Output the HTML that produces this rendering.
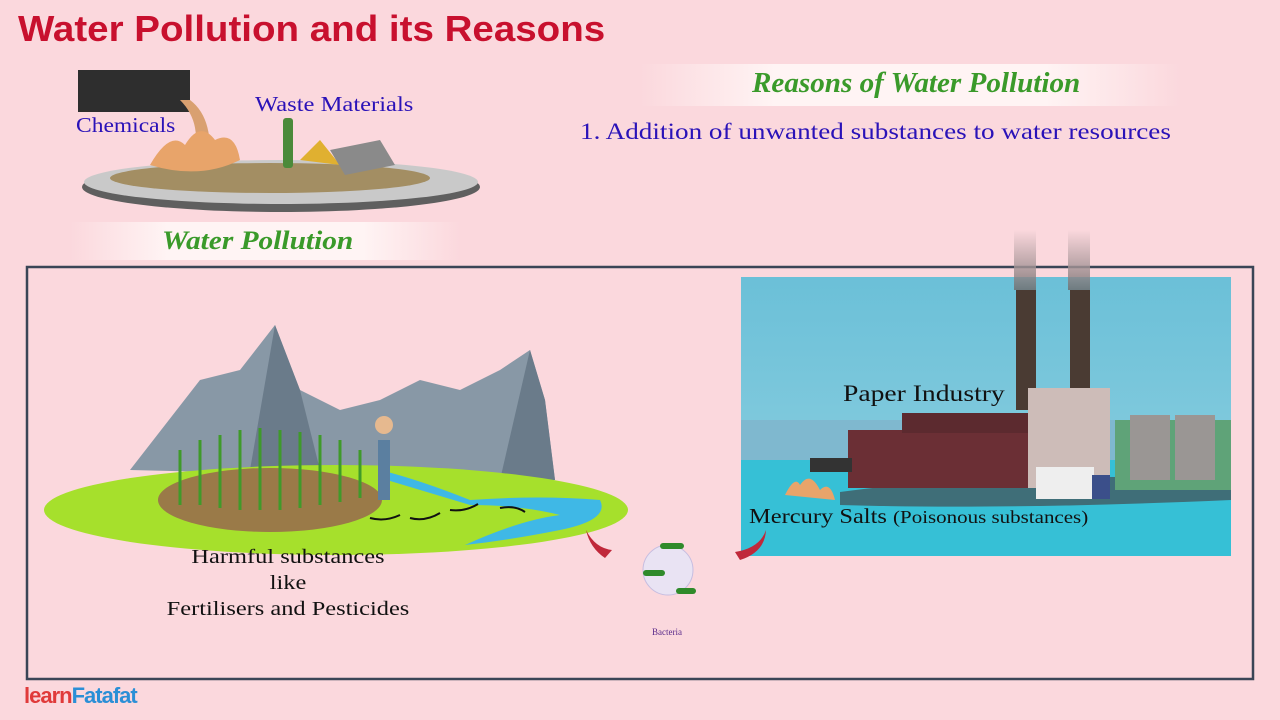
<!DOCTYPE html>
<html><head><meta charset="utf-8"><style>
body{margin:0;width:1280px;height:720px;background:#fbd8dd;overflow:hidden;position:relative;font-family:"Liberation Serif",serif}
.t{position:absolute;white-space:nowrap;transform-origin:left top}
</style></head><body>
<svg width="1280" height="720" style="position:absolute;left:0;top:0">
<defs>
<linearGradient id="band" x1="0" x2="1"><stop offset="0" stop-color="#fbd8dd"/><stop offset=".25" stop-color="#fff4f4"/><stop offset=".75" stop-color="#fff4f4"/><stop offset="1" stop-color="#fbd8dd"/></linearGradient>
<linearGradient id="sky" x1="0" y1="0" x2="0" y2="1"><stop offset="0" stop-color="#6bc0d8"/><stop offset="1" stop-color="#8fd0e0"/></linearGradient>
<linearGradient id="smoke" x1="0" y1="0" x2="0" y2="1"><stop offset="0" stop-color="#fbd8dd"/><stop offset="1" stop-color="#6f6a6a"/></linearGradient>
</defs>
<rect x="640" y="64" width="540" height="42" fill="url(#band)"/>
<rect x="70" y="222" width="390" height="38" fill="url(#band)"/>
<ellipse cx="281" cy="187" rx="199" ry="25" fill="#5f5f5f"/>
<ellipse cx="281" cy="182" rx="197" ry="22" fill="#c9c9c9"/>
<ellipse cx="270" cy="178" rx="160" ry="15" fill="#a38e63"/>
<rect x="78" y="70" width="112" height="42" fill="#2e2e2e"/>
<path d="M180 100 Q200 120 195 150 L210 150 Q210 115 190 100Z" fill="#d9a070"/>
<path d="M150 165 Q170 130 185 145 Q200 120 215 140 Q235 130 240 160 Q200 180 150 165Z" fill="#e8a46a"/>
<rect x="283" y="118" width="10" height="50" rx="3" fill="#4b8a3a"/>
<path d="M300 160 L320 140 L340 165Z" fill="#e0b030"/>
<path d="M330 150 L380 140 L395 165 L345 175Z" fill="#8a8a8a"/>
<rect x="27" y="267" width="1226" height="412" fill="none" stroke="#3a4556" stroke-width="2.5"/>
<polygon points="130,470 200,380 240,370 275,325 300,390 340,410 380,400 420,380 460,390 500,370 530,350 545,400 555,480" fill="#8898a6"/>
<polygon points="275,325 300,390 320,470 250,470" fill="#6a7b8a"/>
<polygon points="530,350 545,400 555,480 500,480" fill="#6a7b8a"/>
<ellipse cx="336" cy="510" rx="292" ry="45" fill="#a6e02c"/>
<ellipse cx="270" cy="500" rx="112" ry="32" fill="#9a7a48"/>
<g stroke="#3f9a2a" stroke-width="3">
<line x1="180" y1="505" x2="180" y2="450"/><line x1="200" y1="505" x2="200" y2="440"/><line x1="220" y1="508" x2="220" y2="435"/><line x1="240" y1="510" x2="240" y2="430"/><line x1="260" y1="510" x2="260" y2="428"/><line x1="280" y1="510" x2="280" y2="430"/><line x1="300" y1="508" x2="300" y2="432"/><line x1="320" y1="505" x2="320" y2="435"/><line x1="340" y1="502" x2="340" y2="440"/><line x1="360" y1="498" x2="360" y2="450"/>
</g>
<path d="M380 470 Q420 480 470 500 Q540 495 600 500 Q610 520 560 530 Q510 540 465 545 Q520 520 560 515 Q520 505 470 505 Q420 490 380 478Z" fill="#3fb8e6"/>
<rect x="378" y="440" width="12" height="60" fill="#5b7fa0"/>
<circle cx="384" cy="425" r="9" fill="#e6b98f"/>
<circle cx="668" cy="570" r="25" fill="#e9e3f3" stroke="#c6bde0"/>
<rect x="660" y="543" width="24" height="6" rx="3" fill="#2f8a2a"/>
<rect x="643" y="570" width="22" height="6" rx="3" fill="#2f8a2a"/>
<rect x="676" y="588" width="20" height="6" rx="3" fill="#2f8a2a"/>
<path d="M586 530 Q595 548 612 550 L605 558 Q590 548 586 530Z" fill="#c0283a"/>
<g fill="none" stroke="#111" stroke-width="2">
<path d="M370 518 Q385 522 400 515"/><path d="M410 518 Q425 522 440 513"/><path d="M450 510 Q465 512 478 504"/><path d="M500 508 Q515 505 525 512"/>
</g>
<rect x="741" y="277" width="490" height="279" fill="url(#sky)"/>
<rect x="741" y="420" width="490" height="40" fill="#7fb8cf"/>
<rect x="741" y="460" width="490" height="96" fill="#36c0d6"/>
<path d="M840 492 Q1000 470 1231 480 L1231 500 Q1000 510 840 505Z" fill="#3f6e78"/>
<rect x="1115" y="420" width="116" height="70" fill="#5fa378"/>
<rect x="1016" y="290" width="20" height="120" fill="#4a3b33"/>
<rect x="1070" y="290" width="20" height="120" fill="#4a3b33"/>
<rect x="1014" y="230" width="22" height="60" fill="url(#smoke)" opacity=".8"/>
<rect x="1068" y="230" width="22" height="60" fill="url(#smoke)" opacity=".8"/>
<rect x="848" y="430" width="190" height="58" fill="#6b2f35"/>
<rect x="902" y="413" width="128" height="20" fill="#5c2a2f"/>
<rect x="1028" y="388" width="82" height="100" fill="#cdbcb8"/>
<rect x="1130" y="415" width="40" height="65" fill="#9a9694"/>
<rect x="1175" y="415" width="40" height="65" fill="#9a9694"/>
<rect x="1036" y="467" width="58" height="32" fill="#eee"/>
<rect x="1092" y="475" width="18" height="24" fill="#3b4f8a"/>
<rect x="810" y="458" width="42" height="14" fill="#333"/>
<path d="M785 495 Q795 475 800 485 Q810 470 820 490 Q830 480 835 500Z" fill="#e8a46a"/>
<path d="M766 530 Q760 548 735 552 L740 560 Q765 552 766 530Z" fill="#c0283a"/>
</svg>
<div class="t" style="left:18px;top:8px;font:bold 36px 'Liberation Sans',sans-serif;color:#c8102e;transform:scaleX(1.07)">Water Pollution and its Reasons</div>
<div class="t" style="left:76px;top:113px;font-size:21px;color:#2a12b8;transform:scaleX(1.12)">Chemicals</div>
<div class="t" style="left:255px;top:92px;font-size:21px;color:#2a12b8;transform:scaleX(1.17)">Waste Materials</div>
<div class="t" style="left:752px;top:68px;font:bold italic 28px 'Liberation Serif',serif;color:#3a9a2a;transform:scaleX(1.04)">Reasons of Water Pollution</div>
<div class="t" style="left:162px;top:226px;font:bold italic 26px 'Liberation Serif',serif;color:#3a9a2a;transform:scaleX(1.13)">Water Pollution</div>
<div class="t" style="left:580px;top:119px;font-size:23px;color:#2a12b8;transform:scaleX(1.18)">1. Addition of unwanted substances to water resources</div>
<div class="t" style="left:843px;top:381px;font-size:23px;color:#111;transform:scaleX(1.2)">Paper Industry</div>
<div class="t" style="left:749px;top:504px;font-size:21px;color:#111;transform:scaleX(1.165)">Mercury Salts <span style="font-size:18px">(Poisonous substances)</span></div>
<div class="t" style="left:160px;top:544px;width:256px;text-align:center;font-size:20px;line-height:26px;color:#111;transform:scaleX(1.22);transform-origin:center top">Harmful substances<br>like<br>Fertilisers and Pesticides</div>
<div class="t" style="left:652px;top:627px;font-size:9px;color:#5a2a8a">Bacteria</div>
<div class="t" style="left:24px;top:683px;font:bold 22px 'Liberation Sans',sans-serif;color:#e03a3a;letter-spacing:-1px">learn<span style="color:#2b8fd6">Fatafat</span></div>
</body></html>
